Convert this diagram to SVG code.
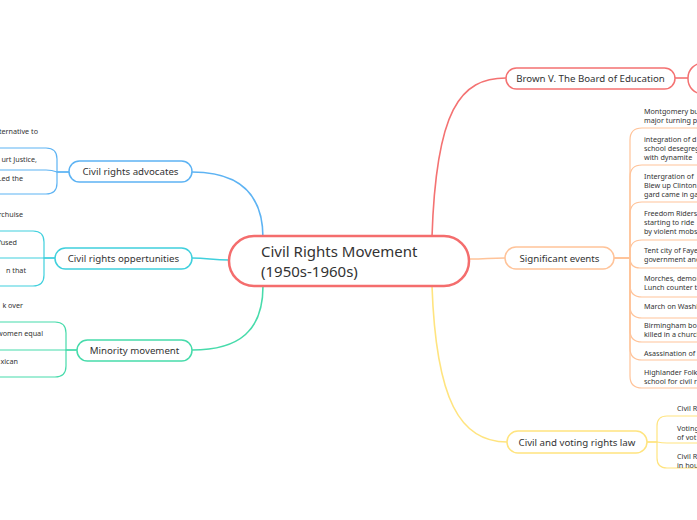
<svg xmlns="http://www.w3.org/2000/svg" width="697" height="520" viewBox="0 0 697 520">
<style>
text{font-family:"Noto Sans","DejaVu Sans",sans-serif;fill:#333;}
.n{font-size:9.7px;text-anchor:middle;dominant-baseline:central;}
.c{font-size:7.2px;}
.e{text-anchor:end;}
.box{fill:#fff;stroke-width:1.5;}
.ln{fill:none;stroke-width:1.2;}
.br{fill:none;stroke-width:1.6;}
.red{stroke:#f47272;} .org{stroke:#ffc399;} .yel{stroke:#ffe47f;}
.blu{stroke:#5db3f3;} .cya{stroke:#40d0dd;} .grn{stroke:#47dbab;}
</style>
<rect width="697" height="520" fill="#fff"/>
<g id="connectors">
<path class="br red" d="M432 237 C436 110 460 78 506 78"/>
<path class="br red" d="M675 78 H690"/>
<path class="br org" d="M469 259 C487 259 488 258 505 258"/>
<path class="br yel" d="M432 286 C436 400 460 442 507 442"/>
<path class="br blu" d="M263 238 C263 195 240 172 192 172"/>
<path class="br cya" d="M229 260 C212 260 208 258 192 258"/>
<path class="br grn" d="M263 286 C263 330 240 350 192 350"/>
<g class="ln org">
<path d="M614 258 H630 V140 Q630 128 642 128 H697"/>
<path d="M614 258 H630 V177 Q630 165 642 165 H697"/>
<path d="M614 258 H630 V214 Q630 202 642 202 H697"/>
<path d="M614 258 H630 V252 Q630 240 642 240 H697"/>
<path d="M614 258 H630 Q630 268 640 268 H697"/>
<path d="M614 258 H630 V285 Q630 297 642 297 H697"/>
<path d="M614 258 H630 V306 Q630 318 642 318 H697"/>
<path d="M614 258 H630 V330 Q630 342 642 342 H697"/>
<path d="M614 258 H630 V348 Q630 360 642 360 H697"/>
<path d="M614 258 H630 V376 Q630 388 642 388 H697"/>
</g>
<g class="ln yel">
<path d="M647 442 H657 V426 Q657 416 667 416 H697"/>
<path d="M647 442 H657 Q662 443 667 443 H697"/>
<path d="M647 442 H657 V458 Q657 468 667 468 H697"/>
</g>
<g class="ln blu">
<path d="M69 172 H57 V159 Q57 148 46 148 H0"/>
<path d="M69 172 H57 Q52 170 46 170 H0"/>
<path d="M69 172 H57 V183 Q57 194 46 194 H0"/>
</g>
<g class="ln cya">
<path d="M55 258 H44 V242 Q44 231 33 231 H0"/>
<path d="M55 258 H0"/>
<path d="M55 258 H44 V275 Q44 286 33 286 H0"/>
</g>
<g class="ln grn">
<path d="M77 350 H66 V333 Q66 322 55 322 H0"/>
<path d="M77 350 H0"/>
<path d="M77 350 H66 V366 Q66 377 55 377 H0"/>
</g>
</g>
<g id="center">
<rect x="229" y="236" width="240" height="50" rx="25" fill="#fff" stroke="#f46d6d" stroke-width="2.5"/>
<text x="261" y="257" font-size="15">Civil Rights Movement</text>
<text x="261" y="277" font-size="15">(1950s-1960s)</text>
</g>
<g id="brown">
<rect class="box red" x="506" y="68" width="169" height="21" rx="10.5"/>
<text class="n" x="590.5" y="78.5">Brown V. The Board of Education</text>
</g>
<g id="brown-child">
<rect class="box red" x="688" y="63" width="60" height="31" rx="15"/>
</g>
<g id="significant">
<rect class="box org" x="505" y="247" width="109" height="22" rx="11"/>
<text class="n" x="559.5" y="258">Significant events</text>
</g>
<g id="significant-children">
<text class="c" x="644" y="114">Montgomery bu</text>
<text class="c" x="644" y="123">major turning po</text>
<text class="c" x="644" y="142">integration of d</text>
<text class="c" x="644" y="151">school desegreg</text>
<text class="c" x="644" y="160">with dynamite</text>
<text class="c" x="644" y="179">Intergration of</text>
<text class="c" x="644" y="188">Blew up Clinton</text>
<text class="c" x="644" y="197">gard came in ga</text>
<text class="c" x="644" y="216">Freedom Riders</text>
<text class="c" x="644" y="225">starting to ride</text>
<text class="c" x="644" y="234">by violent mobs</text>
<text class="c" x="644" y="253">Tent city of Faye</text>
<text class="c" x="644" y="262">government and</text>
<text class="c" x="644" y="281">Morches, demon</text>
<text class="c" x="644" y="290">Lunch counter th</text>
<text class="c" x="644" y="309">March on Washi</text>
<text class="c" x="644" y="328">Birmingham bo</text>
<text class="c" x="644" y="337">killed in a church</text>
<text class="c" x="644" y="356">Asassination of</text>
<text class="c" x="644" y="375">Highlander Folk</text>
<text class="c" x="644" y="384">school for civil r</text>
</g>
<g id="voting">
<rect class="box yel" x="507" y="431" width="140" height="22" rx="11"/>
<text class="n" x="577" y="442">Civil and voting rights law</text>
</g>
<g id="voting-children">
<text class="c" x="677" y="411">Civil R</text>
<text class="c" x="677" y="431">Voting</text>
<text class="c" x="677" y="440">of vot</text>
<text class="c" x="677" y="459">Civil R</text>
<text class="c" x="677" y="468">in hou</text>
</g>
<g id="advocates">
<rect class="box blu" x="69" y="161" width="123" height="21" rx="10.5"/>
<text class="n" x="130.5" y="171.5">Civil rights advocates</text>
</g>
<g id="advocates-children">
<text class="c e" x="38" y="134">lternative to</text>
<text class="c e" x="37" y="162">urt Justice,</text>
<text class="c e" x="23" y="181">Led the</text>
</g>
<g id="opportunities">
<rect class="box cya" x="55" y="248" width="137" height="21" rx="10.5"/>
<text class="n" x="123.5" y="258.5">Civil rights oppertunities</text>
</g>
<g id="opportunities-children">
<text class="c e" x="23" y="217">rchuise</text>
<text class="c e" x="17" y="245">fused</text>
<text class="c e" x="26" y="273">n that</text>
</g>
<g id="minority">
<rect class="box grn" x="77" y="340" width="115" height="21" rx="10.5"/>
<text class="n" x="134.5" y="350.5">Minority movement</text>
</g>
<g id="minority-children">
<text class="c e" x="23" y="308">k over</text>
<text class="c e" x="43" y="336">women equal</text>
<text class="c e" x="18" y="364">xican</text>
</g>
</svg>
